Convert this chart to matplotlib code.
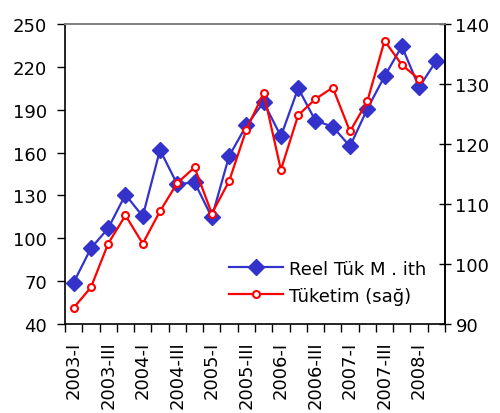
import matplotlib
matplotlib.use("Agg")
import matplotlib.pyplot as plt
import numpy as np

plt.rcParams['font.family'] = ['DejaVu Sans']

quarters = ["2003-I", "2003-II", "2003-III", "2003-IV",
            "2004-I", "2004-II", "2004-III", "2004-IV",
            "2005-I", "2005-II", "2005-III", "2005-IV",
            "2006-I", "2006-II", "2006-III", "2006-IV",
            "2007-I", "2007-II", "2007-III", "2007-IV",
            "2008-I", "2008-II"]
reel_tuk_ithalat = [69, 93, 107, 130.5, 115.4, 161.8, 137.8, 139.2,
                    114.7, 157.5, 179, 195.2, 171.4, 205, 182.3, 178.1,
                    164.4, 190.5, 213.4, 234.4, 205.7, 224.3]
tuketim = [92.7, 96.1, 103.4, 108.1, 103.4, 108.8, 113.5, 116.1,
           108.4, 113.8, 122.4, 128.5, 115.7, 124.8, 127.5, 129.4,
           122.1, 127.1, 137.2, 133.2, 130.8, None]
left_ticks = [40, 70, 100, 130, 160, 190, 220, 250]
right_ticks = [90, 100, 110, 120, 130, 140]

blue = "#3333CC"
red = "#FF0000"
fs = 13

fig = plt.figure(figsize=(5.0, 4.14), dpi=100)
ax = fig.add_axes([0.13, 0.215, 0.76, 0.7246])
ax2 = ax.twinx()

x = np.arange(len(quarters))
t = np.array([np.nan if v is None else v for v in tuketim], dtype=float)

l1, = ax.plot(x, reel_tuk_ithalat, color=blue, lw=1.6, marker='D',
              markersize=8.5, markerfacecolor=blue, markeredgecolor=blue,
              label="Reel Tük M . ith")
l2, = ax2.plot(x, t, color=red, lw=1.6, marker='o', markersize=5,
               markerfacecolor='white', markeredgecolor=red, markeredgewidth=1.5,
               label="Tüketim (sağ)")

ax.set_xlim(-0.5, len(quarters) - 0.5)
ax.set_ylim(40, 250)
ax2.set_ylim(90, 140)
ax.set_yticks(left_ticks)
ax2.set_yticks(right_ticks)

# category boundaries as major ticks, labels at centers as minor ticks
ax.set_xticks(np.arange(len(quarters) + 1) - 0.5)
ax.set_xticklabels([])
ax.set_xticks(x[::2], minor=True)
ax.set_xticklabels(quarters[::2], minor=True, rotation=90, fontsize=fs)
ax.tick_params(axis='x', which='major', direction='out', length=6, width=1, color='black')
ax.tick_params(axis='x', which='minor', length=0, pad=12)

ax.tick_params(axis='y', direction='out', length=6, width=1, labelsize=fs, pad=7)
ax2.tick_params(axis='y', direction='inout', length=9, width=1, labelsize=fs, pad=3)
ax.tick_params(axis='y', which='minor', length=0)

for a in (ax, ax2):
    a.spines['left'].set_color('black')
    a.spines['bottom'].set_color('black')
    a.spines['right'].set_color('black')
    a.spines['top'].set_color('#808080')
    for s in a.spines.values():
        s.set_linewidth(1.2)
ax2.spines['left'].set_visible(False)
ax2.spines['bottom'].set_visible(False)

leg = ax2.legend(handles=[l1, l2], loc='lower right', bbox_to_anchor=(0.97, 0.04),
                 frameon=False, fontsize=fs, handlelength=3.0, handletextpad=0.35,
                 labelspacing=0.5, borderaxespad=0.0)

fig.savefig("out.png", dpi=100, facecolor='white')
